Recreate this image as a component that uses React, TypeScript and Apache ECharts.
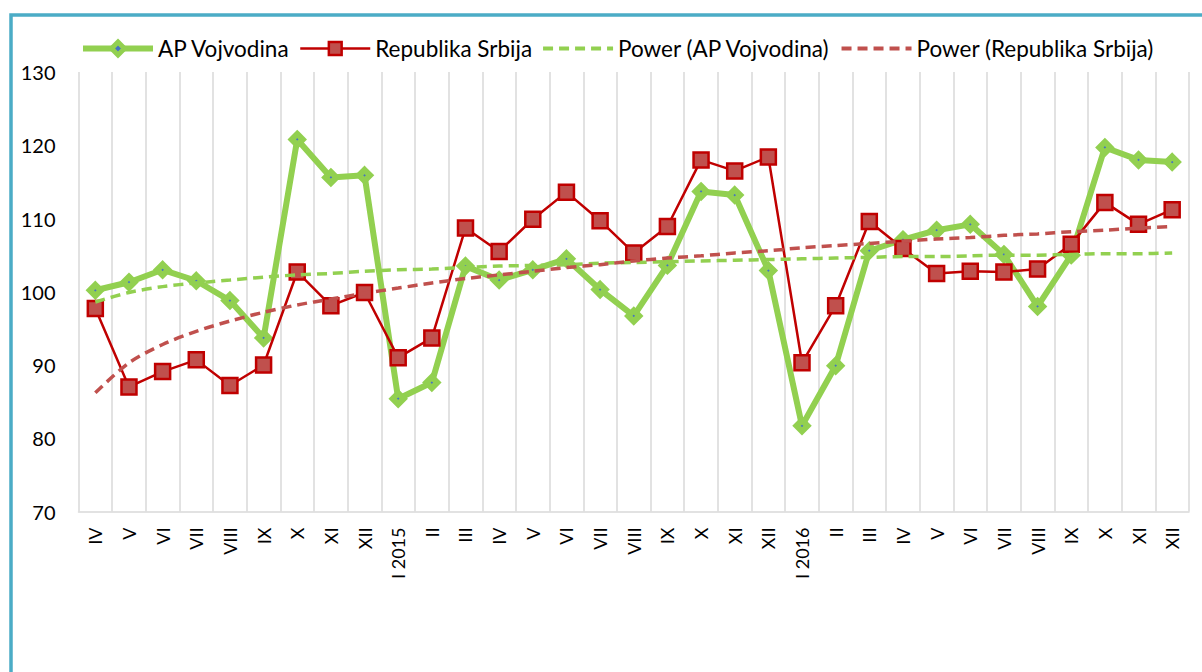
import React, { useEffect, useRef } from "react";
import * as echarts from "echarts";

const categories = ["IV","V","VI","VII","VIII","IX","X","XI","XII","I 2015","II","III","IV","V","VI","VII","VIII","IX","X","XI","XII","I 2016","II","III","IV","V","VI","VII","VIII","IX","X","XI","XII"];

const vojvodina = [100.2,101.3,103.0,101.5,98.8,93.7,120.8,115.6,115.9,85.4,87.6,103.5,101.6,103.0,104.5,100.3,96.7,103.6,113.7,113.2,102.9,81.7,89.9,105.6,107.1,108.4,109.2,105.1,98.0,105.0,119.7,118.0,117.7];

const srbija = [97.7,87.0,89.1,90.7,87.2,90.0,102.7,98.1,99.9,91.0,93.7,108.7,105.5,109.9,113.6,109.7,105.3,108.9,118.0,116.5,118.4,90.3,98.1,109.6,105.9,102.5,102.8,102.7,103.1,106.5,112.2,109.2,111.2];

const trendVojvodina = [98.6,99.9,100.7,101.2,101.6,102.0,102.3,102.5,102.8,103.0,103.1,103.3,103.5,103.6,103.7,103.9,104.0,104.1,104.2,104.3,104.4,104.5,104.6,104.7,104.8,104.8,104.9,105.0,105.0,105.1,105.2,105.2,105.3];

const trendSrbija = [86.2,90.3,92.8,94.6,96.0,97.2,98.2,99.0,99.8,100.5,101.2,101.8,102.3,102.8,103.3,103.7,104.2,104.6,104.9,105.3,105.6,106.0,106.3,106.6,106.9,107.2,107.4,107.7,107.9,108.2,108.4,108.7,108.9];

const seriesNames = ["AP Vojvodina", "Republika Srbija", "Power (AP Vojvodina)", "Power (Republika Srbija)"];

const FONT = "Lato";
const GREEN = "#92D050";
const RED = "#C00000";
const RED_FILL = "#C0504D";
const BLUE = "#4472C4";

export default function App() {
  const ref = useRef<HTMLDivElement>(null);
  useEffect(() => {
    if (!ref.current) return;
    const chart = echarts.init(ref.current, null, { renderer: "svg" });
    chart.setOption({
      animation: false,
      backgroundColor: "#ffffff",
      graphic: [
        {
          type: "rect",
          shape: { x: 11, y: 15, width: 1400, height: 900 },
          style: { fill: "none", stroke: "#4BACC6", lineWidth: 3.5 },
          silent: true,
        },
      ],
      legend: {
        left: 80,
        top: 37,
        padding: 0,
        itemWidth: 70,
        itemHeight: 16,
        itemGap: 9,
        textStyle: { fontFamily: FONT, fontSize: 22.5, color: "#000000" },
        data: [
          {
            name: seriesNames[0],
            lineStyle: { width: 6, color: GREEN },
            itemStyle: { color: BLUE, borderColor: GREEN, borderWidth: 5 },
          },
          {
            name: seriesNames[1],
            lineStyle: { width: 2.5, color: RED },
            itemStyle: { color: RED_FILL, borderColor: RED, borderWidth: 2.5 },
          },
          {
            name: seriesNames[2],
            lineStyle: { width: 4, color: GREEN, type: [10, 6] },
            itemStyle: { opacity: 0 },
          },
          {
            name: seriesNames[3],
            lineStyle: { width: 4, color: RED_FILL, type: [10, 6] },
            itemStyle: { opacity: 0 },
          },
        ],
      },
      grid: { left: 78.5, right: 13, top: 72, bottom: 160.5, containLabel: false },
      xAxis: {
        type: "category",
        data: categories,
        boundaryGap: true,
        axisLine: { show: true, lineStyle: { color: "#D9D9D9", width: 1.5 } },
        axisTick: { show: false },
        splitLine: { show: true, lineStyle: { color: "#D9D9D9", width: 1.5 } },
        axisLabel: {
          rotate: 90,
          interval: 0,
          margin: 16,
          fontFamily: FONT,
          fontSize: 18,
          color: "#000000",
        },
      },
      yAxis: {
        type: "value",
        min: 70,
        max: 130,
        interval: 10,
        axisLine: { show: false },
        axisTick: { show: false },
        splitLine: { show: false },
        axisLabel: { margin: 23, fontFamily: FONT, fontSize: 20, color: "#000000" },
      },
      series: [
        {
          name: seriesNames[0],
          type: "line",
          data: vojvodina,
          symbol: "diamond",
          symbolSize: 11,
          lineStyle: { color: GREEN, width: 6 },
          itemStyle: { color: BLUE, borderColor: GREEN, borderWidth: 6 },
          z: 2,
        },
        {
          name: seriesNames[1],
          type: "line",
          data: srbija,
          symbol: "rect",
          symbolSize: 15,
          lineStyle: { color: RED, width: 2.5 },
          itemStyle: { color: RED_FILL, borderColor: RED, borderWidth: 2.5 },
          z: 3,
        },
        {
          name: seriesNames[2],
          type: "line",
          data: trendVojvodina,
          symbol: "none",
          smooth: 0.3,
          lineStyle: { color: GREEN, width: 3.5, type: [10, 6] },
          itemStyle: { color: GREEN },
          z: 4,
        },
        {
          name: seriesNames[3],
          type: "line",
          data: trendSrbija,
          symbol: "none",
          smooth: 0.3,
          lineStyle: { color: RED_FILL, width: 3.5, type: [10, 6] },
          itemStyle: { color: RED_FILL },
          z: 5,
        },
      ],
    });
    return () => chart.dispose();
  }, []);
  return (
    <div
      ref={ref}
      style={{ position: "fixed", left: 0, top: 0, width: 1202, height: 672, background: "#fff" }}
    />
  );
}
